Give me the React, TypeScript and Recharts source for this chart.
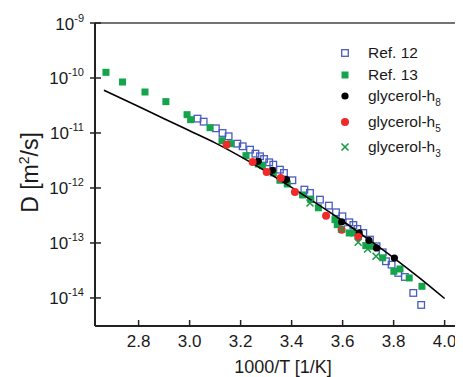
import { ScatterChart, Scatter, XAxis, YAxis, ReferenceLine, Legend } from 'recharts'

// [1000/T, log10 D]
const ref12: [number, number][] = [
  [3.031, -10.739], [3.055, -10.794], [3.103, -10.915], [3.129, -11.0], [3.153, -11.06],
  [3.187, -11.194], [3.208, -11.242], [3.237, -11.303], [3.258, -11.376], [3.276, -11.424],
  [3.292, -11.473], [3.312, -11.533], [3.328, -11.576], [3.354, -11.667], [3.37, -11.727],
  [3.403, -11.86], [3.45, -12.03], [3.472, -12.09], [3.511, -12.212], [3.546, -12.321],
  [3.574, -12.442], [3.599, -12.515], [3.626, -12.624], [3.642, -12.673], [3.658, -12.745],
  [3.681, -12.818], [3.707, -12.939], [3.733, -13.06], [3.757, -13.17], [3.77, -13.333],
  [3.792, -13.394], [3.818, -13.545], [3.844, -13.618], [3.877, -13.909], [3.908, -14.127],
]

const ref13: [number, number][] = [
  [2.672, -9.897], [2.737, -10.073], [2.825, -10.255], [2.907, -10.43], [2.99, -10.667],
  [3.004, -10.758], [3.08, -10.903], [3.127, -11.14], [3.162, -11.194], [3.221, -11.412],
  [3.269, -11.564], [3.285, -11.594], [3.328, -11.727], [3.354, -11.86], [3.383, -11.927],
  [3.443, -12.127], [3.475, -12.21], [3.505, -12.36], [3.57, -12.576], [3.579, -12.667],
  [3.626, -12.818], [3.642, -12.818], [3.691, -13.048], [3.714, -13.06], [3.757, -13.27],
  [3.801, -13.515], [3.825, -13.473], [3.861, -13.636], [3.911, -13.788],
]

const glyH8: [number, number][] = [
  [3.269, -11.515], [3.325, -11.679], [3.38, -11.848], [3.596, -12.618],
  [3.665, -12.818], [3.703, -12.952], [3.733, -13.091], [3.803, -13.273],
]

const glyH5: [number, number][] = [
  [3.145, -11.212], [3.247, -11.527], [3.302, -11.709], [3.357, -11.818],
  [3.413, -12.073], [3.535, -12.503], [3.596, -12.758], [3.661, -12.891],
]

const glyH3: [number, number][] = [
  [3.472, -12.273], [3.596, -12.745], [3.661, -12.988], [3.698, -13.109], [3.731, -13.242],
]

const fit: [number, number][] = [
  [2.664, -10.224], [2.8, -10.52], [2.9, -10.74], [3.0, -10.96], [3.1, -11.18],
  [3.2, -11.43], [3.3, -11.7], [3.4, -11.99], [3.5, -12.29], [3.6, -12.6],
  [3.7, -12.93], [3.8, -13.27], [3.9, -13.63], [4.0, -14.01],
]

const xTicks = [2.8, 3.0, 3.2, 3.4, 3.6, 3.8, 4.0]
const yTicks = [-14, -13, -12, -11, -10, -9]

const toRows = (pts: [number, number][]) => pts.map(([x, y]) => ({ x, y }))

const FONT = '"Liberation Sans", Arial, sans-serif'
const BLUE = '#4a5cc0'
const GREEN = '#12a54b'
const RED = '#ee2a2a'
const XGREEN = '#1b9a48'

const OpenSquare = (p: any) => (
  <rect x={p.cx - 3.3} y={p.cy - 3.3} width={6.6} height={6.6} fill="none" stroke={BLUE} strokeWidth={1.3} />
)
const FilledSquare = (p: any) => (
  <rect x={p.cx - 3.5} y={p.cy - 3.5} width={7} height={7} fill={GREEN} />
)
const Dot = (color: string, r: number) => (p: any) => <circle cx={p.cx} cy={p.cy} r={r} fill={color} />
const Cross = (p: any) => (
  <path d={`M${p.cx - 3.5},${p.cy - 3.5}L${p.cx + 3.5},${p.cy + 3.5}M${p.cx - 3.5},${p.cy + 3.5}L${p.cx + 3.5},${p.cy - 3.5}`}
    stroke={XGREEN} strokeWidth={1.6} fill="none" />
)

const YTick = ({ x, y, payload }: any) => (
  <g>
    <line x1={x - 5} x2={x + 6} y1={y} y2={y} stroke="#222" strokeWidth={1.5} />
    <text x={x - 11} y={y + 6.5} textAnchor="end" fontSize={17} fontFamily={FONT} fill="#1a1a1a">
      10<tspan dy={-8} fontSize={11}>{payload.value}</tspan>
    </text>
  </g>
)

const XTick = ({ x, y, payload }: any) => (
  <g>
    <line x1={x} x2={x} y1={y - 6} y2={y} stroke="#222" strokeWidth={1.5} />
    <text x={x} y={y + 20.5} textAnchor="middle" fontSize={17} fontFamily={FONT} fill="#1a1a1a">
      {payload.value.toFixed(1)}
    </text>
  </g>
)

const YLabel = () => (
  <text transform="translate(29.5,164.5) rotate(-90)" textAnchor="middle" fontSize={23} fontFamily={FONT} fill="#1a1a1a">
    D [m<tspan dy={-9} fontSize={14}>2</tspan><tspan dy={9}>/s]</tspan>
  </text>
)

const legendItems = [
  { name: 'Ref. 12', sub: '', cy: 45.3, mark: <rect x={3.7} y={2.7} width={6.6} height={6.6} fill="none" stroke={BLUE} strokeWidth={1.3} /> },
  { name: 'Ref. 13', sub: '', cy: 66.7, mark: <rect x={3.5} y={2.5} width={7} height={7} fill={GREEN} /> },
  { name: 'glycerol-h', sub: '8', cy: 87.7, mark: <circle cx={7} cy={6} r={3.6} fill="#000" /> },
  { name: 'glycerol-h', sub: '5', cy: 113.7, mark: <circle cx={7} cy={6} r={4} fill={RED} /> },
  { name: 'glycerol-h', sub: '3', cy: 138.7, mark: <path d="M3.5,2.5L10.5,9.5M3.5,9.5L10.5,2.5" stroke={XGREEN} strokeWidth={1.6} /> },
]

const LegendBox = () => (
  <div style={{ position: 'relative', width: 125, height: 120, fontFamily: FONT, color: '#1a1a1a' }}>
    {legendItems.map((it) => (
      <div key={it.name + it.sub} style={{ position: 'absolute', left: 0, top: it.cy - 30 - 10, height: 20, display: 'flex', alignItems: 'center', whiteSpace: 'nowrap' }}>
        <svg width={14} height={12} style={{ marginRight: 16 }}>{it.mark}</svg>
        <span style={{ fontSize: 15.5 }}>
          {it.name}
          {it.sub && <span style={{ fontSize: 10, position: 'relative', top: 5 }}>{it.sub}</span>}
        </span>
      </div>
    ))}
  </div>
)

export default function App() {
  return (
    <ScatterChart width={455} height={369} margin={{ top: 15, right: 0, bottom: 0, left: 0 }}>
      <XAxis type="number" dataKey="x" domain={[2.629, 4.072]} allowDataOverflow ticks={xTicks}
        tick={<XTick />} tickSize={0} tickMargin={0} tickLine={false} height={51}
        axisLine={{ stroke: '#222', strokeWidth: 2 }}
        label={{ value: '1000/T [1/K]', position: 'insideBottom', offset: 4, dx: 4, fontSize: 18, fontFamily: FONT, fill: '#1a1a1a' }} />
      <YAxis type="number" dataKey="y" domain={[-14.51, -9]} allowDataOverflow ticks={yTicks}
        tick={<YTick />} tickSize={0} tickMargin={0} tickLine={false} width={87}
        axisLine={{ stroke: '#222', strokeWidth: 2 }} label={<YLabel />} />
      <ReferenceLine y={-9} stroke="#444" strokeWidth={1.5} />
      <Legend layout="horizontal" verticalAlign="middle" align="center" content={<LegendBox />}
        wrapperStyle={{ left: 330, top: 30, width: 125 }} />
      <Scatter name="Ref. 12" data={toRows(ref12)} shape={OpenSquare} isAnimationActive={false} />
      <Scatter name="Ref. 13" data={toRows(ref13)} shape={FilledSquare} isAnimationActive={false} />
      <Scatter name="fit" data={toRows(fit)} line={{ stroke: '#000', strokeWidth: 1.6 }} lineJointType="monotoneX"
        shape={() => <g />} isAnimationActive={false} legendType="none" />
      <Scatter name="glycerol-h8" data={toRows(glyH8)} shape={Dot('#000', 3.6)} isAnimationActive={false} />
      <Scatter name="glycerol-h5" data={toRows(glyH5)} shape={Dot(RED, 4)} isAnimationActive={false} />
      <Scatter name="glycerol-h3" data={toRows(glyH3)} shape={Cross} isAnimationActive={false} />
    </ScatterChart>
  )
}
